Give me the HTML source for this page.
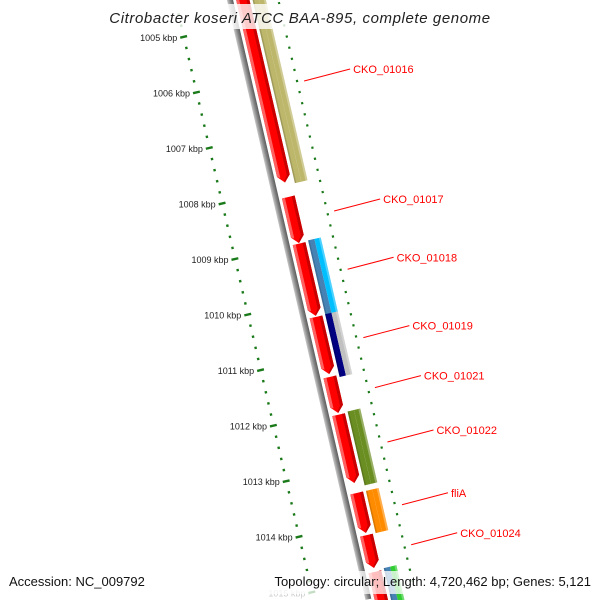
<!DOCTYPE html>
<html><head><meta charset="utf-8">
<style>
html,body{margin:0;padding:0;background:#fff;overflow:hidden;width:600px;height:600px;}
svg{display:block;font-family:"Liberation Sans","DejaVu Sans",sans-serif;}
</style></head>
<body>
<svg id="map" width="600" height="600" viewBox="0 0 600 600" overflow="hidden" xmlns="http://www.w3.org/2000/svg">
<defs>
<linearGradient id="gbb" x1="0" x2="1" y1="0" y2="0">
<stop offset="0" stop-color="#c8c8c8"/><stop offset="0.5" stop-color="#8a8a8a"/><stop offset="1" stop-color="#5a5a5a"/>
</linearGradient>
<clipPath id="clipAll"><rect x="0" y="0" width="600" height="600"/></clipPath>
</defs>
<g clip-path="url(#clipAll)">
<g id="frame" transform="translate(230,0) rotate(-13)"></g>
<g id="labels"></g>
</g>
<rect x="113" y="4" width="374" height="25" fill="#fff" opacity="0.8"/>
<text x="300" y="23" text-anchor="middle" font-size="15" font-style="italic" fill="#222" letter-spacing="0.6">Citrobacter koseri ATCC BAA-895, complete genome</text>
<rect x="5" y="571" width="128" height="23" fill="#fff" opacity="0.8"/>
<text x="9" y="586" font-size="13" fill="#111">Accession: NC_009792</text>
<rect x="258" y="571" width="338" height="23" fill="#fff" opacity="0.75"/>
<text x="591" y="586" text-anchor="end" font-size="13" fill="#111">Topology: circular; Length: 4,720,462 bp; Genes: 5,121</text>
</svg>
<script>
// genome data (kbp)
const redStarts = [1004.2, 1008.15, 1008.99, 1010.31, 1011.39, 1012.07, 1013.48, 1014.24, 1014.90];
const redEnds   = [1007.89, 1008.98, 1010.29, 1011.34, 1012.04, 1013.30, 1014.20, 1014.83, 1015.55];
const featStarts = [1004.2, 1008.97, 1010.30, 1012.05, 1013.48, 1014.87];
const featEnds   = [1007.94, 1010.32, 1011.43, 1013.38, 1014.24, 1015.55];
const featColorA = ['#bdb76b', '#4682b4', '#000080', '#6b8e23', '#ff8c00', '#4682b4'];
const featColorB = ['#bdb76b', '#00bfff', '#c0c0c0', '#6b8e23', '#ff8c00', '#32cd32'];
const tickKbp = [1005, 1006, 1007, 1008, 1009, 1010, 1011, 1012, 1013, 1014, 1015];
const tickLabels = ['1005 kbp','1006 kbp','1007 kbp','1008 kbp','1009 kbp','1010 kbp','1011 kbp','1012 kbp','1013 kbp','1014 kbp','1015 kbp'];
const geneNames = ['CKO_01016','CKO_01017','CKO_01018','CKO_01019','CKO_01021','CKO_01022','fliA','CKO_01024'];
const geneLabelKbp = [1006.23, 1008.57, 1009.62, 1010.85, 1011.75, 1012.73, 1013.86, 1014.58];

const NS = 'http://www.w3.org/2000/svg';
const frame = document.getElementById('frame');
const labels = document.getElementById('labels');
const S = 57, Y0 = 25.5, SH = 4;
function ly(p){ return Y0 + (p - 1005) * S; }
const c = Math.cos(13*Math.PI/180), s = Math.sin(13*Math.PI/180);
function toScreen(lx, lyv){ return [230 + c*lx + s*lyv, -s*lx + c*lyv]; }
function mk(tag, attrs, parent){
  const e = document.createElementNS(NS, tag);
  for (const k in attrs) e.setAttribute(k, attrs[k]);
  parent.appendChild(e); return e;
}

// backbone
let bb = mk('rect', {x:-7+SH, y:-5, width:6, height:620, fill:'url(#gbb)'}, frame);



// inner ruler ring
for (let p = 1004.6; p <= 1015.6; p += 0.2) {
  const pr = Math.round(p*5)/5;
  const major = Math.abs(pr - Math.round(pr)) < 0.01;
  const r = mk('rect', major ? {x:-57, y:ly(pr)-1.2, width:7, height:2.4, fill:'#1a7a1a'} : {x:-54.5, y:ly(pr)-1.2, width:2.4, height:2.4, fill:'#1a7a1a'}, frame);
  
  
}
// outer ruler ring
for (let p = 1004.6; p <= 1015.4; p += 0.2) {
  const pr = Math.round(p*5)/5;
  const major = Math.abs((pr - 0.86) - Math.round(pr - 0.86)) < 0.05;
  const r = mk('rect', major ? {x:40+SH, y:ly(pr)-1.2, width:7, height:2.4, fill:'#1a7a1a'} : {x:42+SH, y:ly(pr)-1, width:2.2, height:2.2, fill:'#1a7a1a'}, frame);
  
  
}

// red genes (arrows)
for (let i = 0; i < redStarts.length; i++) {
  const a = ly(redStarts[i]), b = ly(redEnds[i]);
  const x1 = 2+SH, x2 = 15+SH, tip = 7;
  const g = mk('g', {}, frame);
  
  
  mk('path', {d:`M${x1},${a} L${x2},${a} L${x2},${b-tip} L${(x1+x2)/2},${b} L${x1},${b-tip} Z`, fill:'#ff0000'}, g);
  mk('path', {d:`M${x1},${a} L${x1+3},${a} L${x1+3},${b-tip+1.5} L${x1},${b-tip} Z`, fill:'#ff6060'}, g);
  mk('path', {d:`M${x2-3},${a} L${x2},${a} L${x2},${b-tip} L${(x1+x2)/2},${b} L${(x1+x2)/2},${b-2} L${x2-3},${b-tip} Z`, fill:'#c80000'}, g);
}

// other features
for (let i = 0; i < featStarts.length; i++) {
  const a = ly(featStarts[i]), b = ly(featEnds[i]);
  const g = mk('g', {}, frame);
  
  
  mk('rect', {x:18+SH, y:a, width:6.5, height:b-a, fill:featColorA[i]}, g);
  mk('rect', {x:24.5+SH, y:a, width:6.5, height:b-a, fill:featColorB[i]}, g);
  mk('rect', {x:29+SH, y:a, width:2, height:b-a, fill:'#fff', opacity:0.3}, g);
  mk('rect', {x:18+SH, y:a, width:1.5, height:b-a, fill:'#000', opacity:0.15}, g);
}

// tick labels
for (let i = 0; i < tickKbp.length; i++) {
  const [sx, sy] = toScreen(-58, ly(tickKbp[i]));
  const t = mk('text', {x:sx-2, y:sy+3, 'text-anchor':'end', 'font-size':9, fill: i===10 ? '#ccc' : '#222'}, labels);
  t.textContent = tickLabels[i];
  
  
}

// gene labels with leader lines
for (let i = 0; i < geneNames.length; i++) {
  const [sx, sy] = toScreen(54, ly(geneLabelKbp[i]));
  const lx2 = sx + 46, ly2 = sy - 12;
  const ln = mk('line', {x1:sx, y1:sy, x2:lx2, y2:ly2, stroke:'#ff0000', 'stroke-width':1}, labels);
  
  
  const t = mk('text', {x:lx2+3, y:ly2+4, 'font-size':11, fill:'#ff0000'}, labels);
  t.textContent = geneNames[i];
  
  
}
</script>
</body></html>
